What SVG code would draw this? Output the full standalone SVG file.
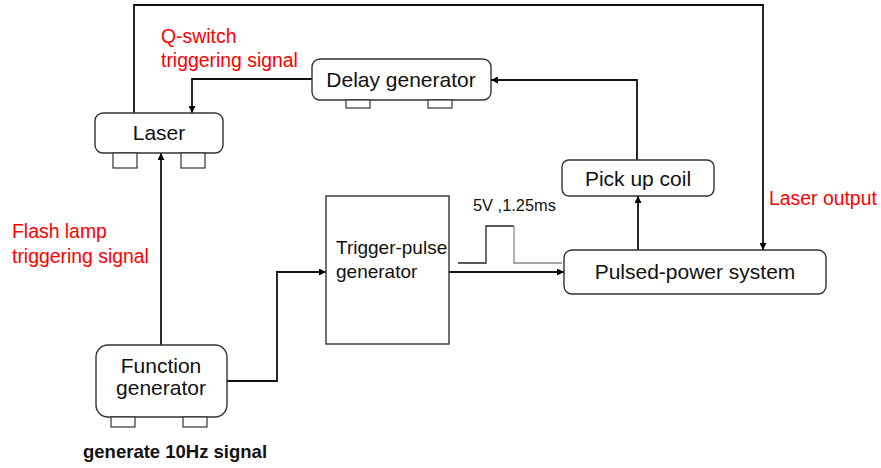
<svg xmlns="http://www.w3.org/2000/svg" width="881" height="468" viewBox="0 0 881 468">
  <defs>
    <marker id="arrow" viewBox="0 0 10 10" refX="10" refY="5" markerWidth="7" markerHeight="7" markerUnits="userSpaceOnUse" orient="auto">
      <path d="M0,0 L10,5 L0,10 z" fill="#000"/>
    </marker>
  </defs>
  <style>
    .box { fill: #fff; stroke: #333; stroke-width: 1.4; }
    .foot { fill: #fff; stroke: #333; stroke-width: 1.2; }
    .wire { fill: none; stroke: #111; stroke-width: 1.8; }
    .lbl { font-family: "Liberation Sans", Arial, sans-serif; font-size: 21px; fill: #111; }
    .red { font-family: "Liberation Sans", Arial, sans-serif; font-size: 19.4px; fill: #ff0000; }
    .note { font-family: "Liberation Sans", Arial, sans-serif; font-size: 19px; fill: #111; }
    .small { font-family: "Liberation Sans", Arial, sans-serif; font-size: 16.4px; fill: #111; }
  </style>
  <rect width="881" height="468" fill="#fff"/>

  <!-- connectors -->
  <g id="connectors">
    <!-- laser output loop: laser top, along the top, down to pulsed-power system -->
    <polyline class="wire" points="134,113 134,5 763,5 763,250" marker-end="url(#arrow)"/>
    <!-- delay generator to laser (Q-switch trigger) -->
    <polyline class="wire" points="312,79 192,79 192,113" marker-end="url(#arrow)"/>
    <!-- pick up coil to delay generator -->
    <polyline class="wire" points="637,160 637,80 491,80" marker-end="url(#arrow)"/>
    <!-- pulsed-power system to pick up coil -->
    <line class="wire" x1="638" y1="250" x2="638" y2="196" marker-end="url(#arrow)"/>
    <!-- function generator to laser (flash lamp trigger) -->
    <line class="wire" x1="161" y1="345" x2="161" y2="153" marker-end="url(#arrow)"/>
    <!-- function generator to trigger-pulse generator -->
    <polyline class="wire" points="227,381 277,381 277,272 326,272" marker-end="url(#arrow)"/>
    <!-- trigger-pulse generator to pulsed-power system -->
    <line class="wire" x1="449" y1="272" x2="564" y2="272" marker-end="url(#arrow)"/>
    <!-- pulse waveform sketch -->
    <polyline fill="none" stroke="#222" stroke-width="1.3" points="458,263 486,263 486,226 514,226"/>
    <polyline fill="none" stroke="#888" stroke-width="1.3" points="514,226 514,263 562,263"/>
  </g>

  <!-- labels -->
  <g id="labels">
    <text class="red" x="161" y="43">Q-switch</text>
    <text class="red" x="161" y="67">triggering signal</text>
    <text class="red" x="12" y="238">Flash lamp</text>
    <text class="red" x="12" y="263">triggering signal</text>
    <text class="red" x="769" y="205">Laser output</text>
    <text class="small" x="473" y="211">5V ,1.25ms</text>
    <text x="83" y="458" font-family="Liberation Sans, Arial, sans-serif" font-size="18.5" font-weight="bold" fill="#111">generate 10Hz signal</text>
  </g>

  <g id="laser">
    <rect class="box" x="95" y="113" width="128" height="40" rx="8"/>
    <rect class="foot" x="113" y="153" width="24" height="15"/>
    <rect class="foot" x="181" y="153" width="24" height="15"/>
    <text class="lbl" x="159" y="140" text-anchor="middle">Laser</text>
  </g>

  <g id="delay-generator">
    <rect class="box" x="312" y="59" width="179" height="41" rx="8"/>
    <rect class="foot" x="346" y="100" width="24" height="8"/>
    <rect class="foot" x="428" y="100" width="24" height="8"/>
    <text class="lbl" x="401" y="87" text-anchor="middle">Delay generator</text>
  </g>

  <g id="pick-up-coil">
    <rect class="box" x="562" y="160" width="152" height="36" rx="7"/>
    <text class="lbl" x="638" y="186" text-anchor="middle">Pick up coil</text>
  </g>

  <g id="pulsed-power-system">
    <rect class="box" x="564" y="250" width="262" height="44" rx="8"/>
    <text class="lbl" x="695" y="279" text-anchor="middle">Pulsed-power system</text>
  </g>

  <g id="trigger-pulse-generator">
    <rect class="box" x="326" y="196" width="123" height="148"/>
    <text class="note" x="336" y="254">Trigger-pulse</text>
    <text class="note" x="336" y="278">generator</text>
  </g>

  <g id="function-generator">
    <rect class="box" x="96" y="345" width="131" height="72" rx="12"/>
    <rect class="foot" x="111" y="417" width="24" height="10"/>
    <rect class="foot" x="183" y="417" width="24" height="10"/>
    <text class="lbl" x="161" y="373" text-anchor="middle">Function</text>
    <text class="lbl" x="161" y="395" text-anchor="middle">generator</text>
  </g>
</svg>
